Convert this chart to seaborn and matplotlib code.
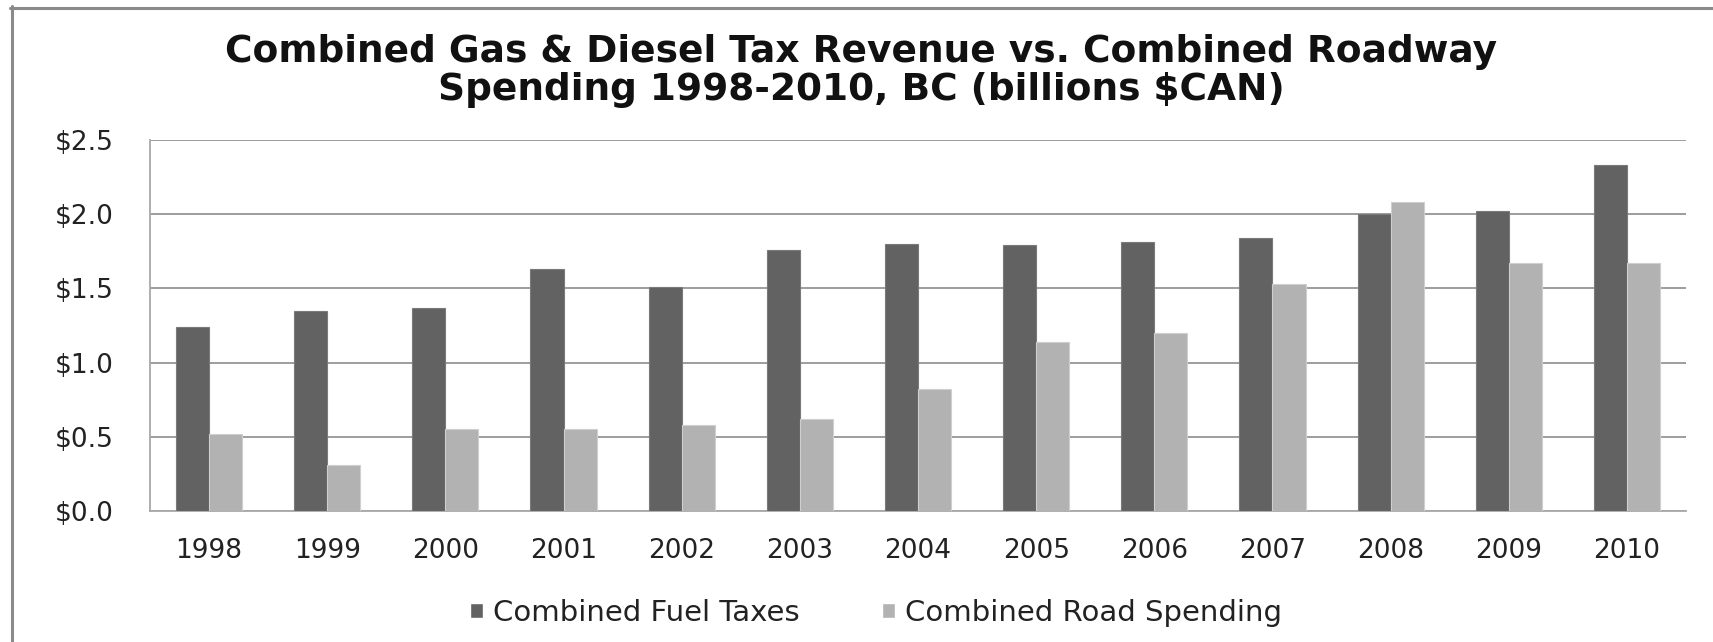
import matplotlib
matplotlib.use("Agg")
import matplotlib.pyplot as plt
from matplotlib.lines import Line2D
from matplotlib.ticker import FuncFormatter
import pandas as pd
import seaborn as sns

# Data (billions $CAN)
years = ["1998", "1999", "2000", "2001", "2002", "2003", "2004",
         "2005", "2006", "2007", "2008", "2009", "2010"]
fuel_taxes = [1.24, 1.35, 1.37, 1.63, 1.51, 1.76, 1.80,
              1.79, 1.81, 1.84, 2.00, 2.02, 2.33]
road_spending = [0.52, 0.31, 0.55, 0.55, 0.58, 0.62, 0.82,
                 1.14, 1.20, 1.53, 2.08, 1.67, 1.67]
series_names = ["Combined Fuel Taxes", "Combined Road Spending"]
y_ticks = [0.0, 0.5, 1.0, 1.5, 2.0, 2.5]
title = ("Combined Gas & Diesel Tax Revenue vs. Combined Roadway\n"
         "Spending 1998-2010, BC (billions $CAN)")

df = pd.DataFrame({
    "year": years * 2,
    "value": fuel_taxes + road_spending,
    "series": [series_names[0]] * len(years) + [series_names[1]] * len(years),
})

sns.set_theme(style="white")
plt.rcParams["font.family"] = ["DejaVu Sans"]

W, H = 1713, 642
fig = plt.figure(figsize=(W / 100, H / 100), dpi=100)
ax = fig.add_axes([150 / W, 1 - 511 / H, (1686 - 150) / W, (511 - 140) / H])

colors = ["#626262", "#b2b2b2"]
sns.barplot(data=df, x="year", y="value", hue="series", order=years,
            hue_order=series_names, palette=colors, width=0.56,
            saturation=1, ax=ax, zorder=3)

# thin lighter outlines on the bars
for cont, ec in zip(ax.containers, ["#7a7a7a", "#cfcfcf"]):
    for p in cont:
        p.set_edgecolor(ec)
        p.set_linewidth(0.8)

ax.set_xlim(-0.5, len(years) - 0.5)
ax.set_ylim(0, 2.5)
ax.set_yticks(y_ticks)
ax.yaxis.set_major_formatter(FuncFormatter(lambda v, _: f"${v:.1f}"))
ax.set_xlabel("")
ax.set_ylabel("")
ax.grid(axis="y", color="#959595", linewidth=1.3, zorder=0)
ax.set_axisbelow(True)
for side in ["top", "right"]:
    ax.spines[side].set_visible(False)
for side in ["left", "bottom"]:
    ax.spines[side].set_color("#a8a8a8")
    ax.spines[side].set_linewidth(1.3)
ax.tick_params(axis="y", length=0, pad=26, labelsize=19, labelcolor="#222222")
ax.tick_params(axis="x", length=0, pad=19.5, labelsize=19, labelcolor="#222222")

# legend below the plot
handles, labels = ax.get_legend_handles_labels()
ax.get_legend().remove()
fig.legend(handles, labels, loc="center", bbox_to_anchor=(876 / W, 1 - 613 / H),
           ncol=2, frameon=False, fontsize=21, handlelength=0.45,
           handleheight=0.45, handletextpad=0.35, columnspacing=2.82,
           labelcolor="#222222")

fig.suptitle(title, x=861 / W, y=1 - 71 / H, va="center", fontsize=27,
             fontweight="bold", linespacing=1.08, color="#111111")

# chart frame
fig.add_artist(Line2D([10 / W, 1.0], [1 - 7.5 / H, 1 - 7.5 / H],
                      transform=fig.transFigure, color="#8a8a8a", linewidth=2.2))
fig.add_artist(Line2D([11.5 / W, 11.5 / W], [0.0, 1 - 6 / H],
                      transform=fig.transFigure, color="#8a8a8a", linewidth=2.2))

fig.savefig("out.png", dpi=100, facecolor="white")
